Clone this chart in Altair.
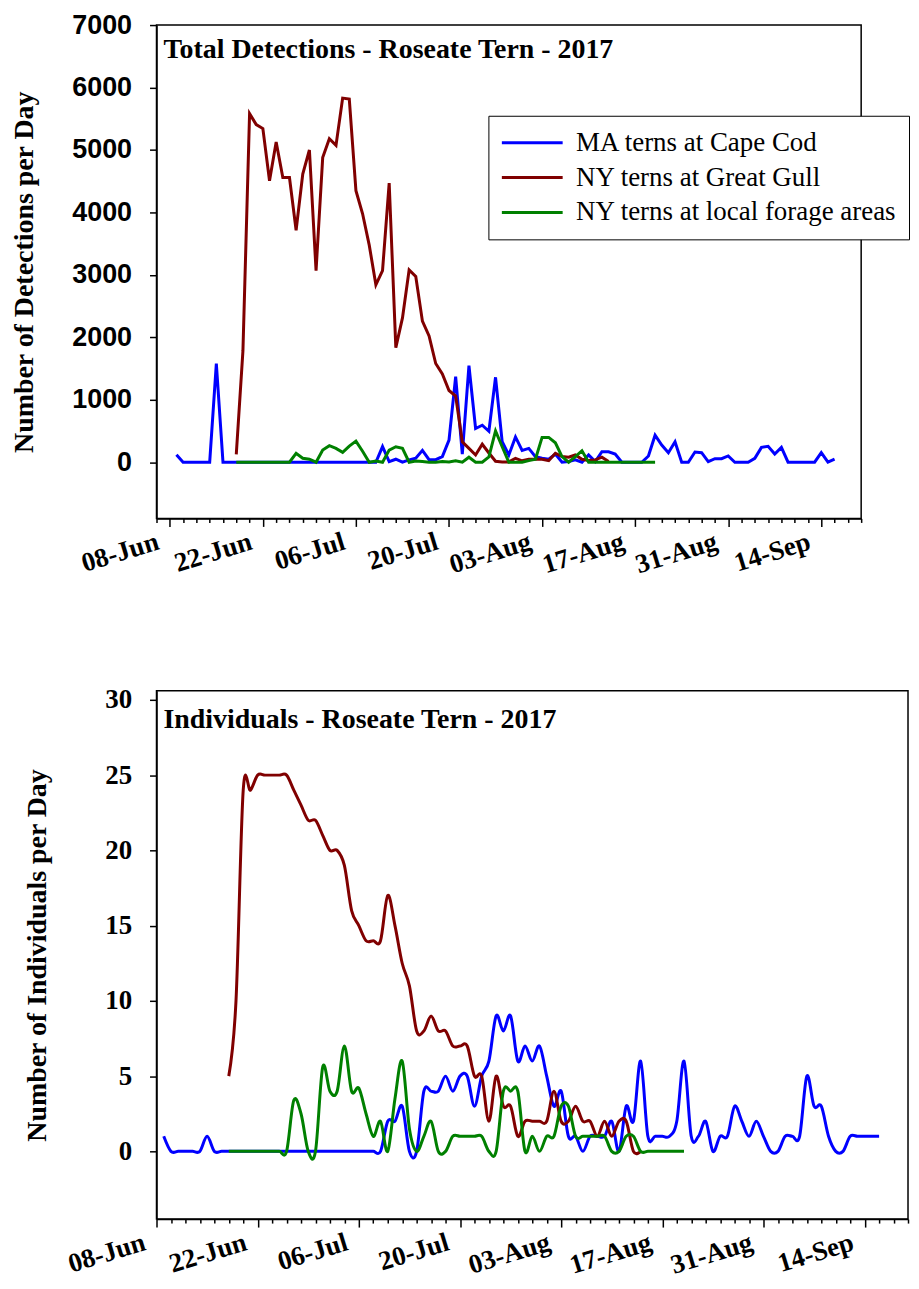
import altair as alt
import pandas as pd

SERIES = ["MA terns at Cape Cod", "NY terns at Great Gull", "NY terns at local forage areas"]
COLORS = ["#0000ff", "#800000", "#008000"]
MAJOR_LABELS = ["08-Jun", "22-Jun", "06-Jul", "20-Jul", "03-Aug", "17-Aug", "31-Aug", "14-Sep"]
Y_TICKS_TOP = [0, 1000, 2000, 3000, 4000, 5000, 6000, 7000]
Y_TICKS_BOTTOM = [0, 5, 10, 15, 20, 25, 30]

# ---- Total detections per day ----
det_ma_start = "2017-06-09"
det_ma = [120, 0, 0, 0, 0, 0, 1580,
          0, 0, 0, 0, 0, 0, 0, 0, 0, 0, 0, 0, 0, 0, 0, 0, 0, 0, 0, 0, 0, 0, 0, 0,
          250, 10, 48, 0, 37, 63, 190, 40, 40, 90, 354, 1370, 130, 1545, 540, 592,
          495, 1360, 327, 116, 405, 190, 222, 90, 63, 48, 132, 0, 10, 37, 0, 116,
          10, 168, 168, 132, 0, 0, 0, 0, 100, 433, 275, 152, 327, 0, 0, 163, 152,
          10, 57, 57, 100, 0, 0, 0, 63, 238, 254, 132, 238, 0, 0, 0, 0, 0, 152, 0, 48]
det_gg_start = "2017-06-18"
det_gg = [127, 1782, 5581, 5406, 5343, 4508, 5127, 4560, 4560, 3714, 4613, 5000, 3068,
          4878, 5179, 5073, 5830, 5814, 4349, 3978, 3476, 2841, 3068, 4470, 1835, 2311,
          3079, 2973, 2259, 2021, 1581, 1413, 1148, 1060, 327, 222, 116, 288, 148, 15,
          5, 5, 63, 23, 48, 48, 48, 26, 143, 90, 80, 116, 48, 26, 37, 80, 10]
det_lf_start = "2017-06-18"
det_lf = [0, 0, 0, 0, 0, 0, 0, 0, 0,
          143, 63, 48, 0, 195, 264, 222, 159, 259, 338, 175, 0, 20, 0, 195, 248, 222,
          0, 20, 10, 0, 0, 10, 5, 22, 0, 80, 0, 0, 85, 500, 248, 0, 0, 0, 26, 48, 397,
          397, 311, 90, 0, 90, 184, 0,
          0, 0, 0, 0, 0, 0, 0, 0, 0, 0]

# ---- Individuals per day ----
ind_ma_start = "2017-06-09"
ind_ma = [1, 0, 0, 0, 0, 0, 1,
          0, 0, 0, 0, 0, 0, 0, 0, 0, 0, 0, 0, 0, 0, 0, 0, 0, 0, 0, 0, 0, 0, 0, 0,
          2, 2, 3, 0, 0, 4, 4, 4, 5, 4, 5, 5, 3, 5, 6, 9, 8, 9, 6, 7, 6, 7, 5, 3, 4,
          1, 1, 0, 1, 1, 1, 2, 0, 3, 2, 6, 1, 1, 1, 1, 2, 6, 1, 1, 2, 0, 1, 1, 3, 2,
          1, 2, 1, 0, 0, 1, 1, 1, 5, 3, 3, 1, 0, 0, 1, 1, 1, 1, 1]
ind_gg_start = "2017-06-18"
ind_gg = [5, 10, 24, 24, 25, 25, 25, 25, 25, 24, 23, 22, 22, 21, 20, 20, 19, 16, 15,
          14, 14, 14, 17, 15, 12.5, 11, 8, 8, 9, 8, 8, 7, 7, 7, 5, 5, 2, 5, 3, 3, 1,
          2, 2, 2, 2, 4, 2, 2, 3, 2, 2, 1, 2, 1, 2, 2, 0, 0]
ind_lf_start = "2017-06-18"
ind_lf = [0, 0, 0, 0, 0, 0, 0, 0,
          0, 3.4, 2.5, 0, 0, 5.6, 4, 4, 7, 4, 4.2, 2.5, 1, 2, 0, 3.5, 6, 1.5, 0, 1, 2,
          0, 0, 1, 1, 1, 1, 1, 0, 0, 4, 4, 4, 0, 1, 0, 1, 1, 3, 3, 1, 1, 1, 1, 1, 0,
          0, 1, 1, 0,
          0, 0, 0, 0, 0, 0]


def frame(starts, values):
    rows = []
    for name, start, vals in zip(SERIES, starts, values):
        for d, v in zip(pd.date_range(start, periods=len(vals), freq="D"), vals):
            rows.append({"date": d, "value": v, "series": name})
    return pd.DataFrame(rows)


det_df = frame([det_ma_start, det_gg_start, det_lf_start], [det_ma, det_gg, det_lf])
ind_df = frame([ind_ma_start, ind_gg_start, ind_lf_start], [ind_ma, ind_gg, ind_lf])

maj_arr = "[" + ",".join("'%s'" % m for m in MAJOR_LABELS) + "]"
IS_MAJOR = "indexof(%s, timeFormat(datum.value, '%%d-%%b')) >= 0" % maj_arr


def dt(ts):
    return alt.DateTime(year=ts.year, month=ts.month, date=ts.day)


def x_encoding(start, end):
    ticks = [dt(t) for t in pd.date_range(start, end, freq="2D")]
    return alt.X(
        "date:T",
        scale=alt.Scale(domain=[dt(pd.Timestamp(start)), dt(pd.Timestamp(end))], nice=False),
        axis=alt.Axis(
            values=ticks,
            labelExpr="%s ? timeFormat(datum.value, '%%d-%%b') : ''" % IS_MAJOR,
            labelAngle=-17, labelAlign="right", labelBaseline="top",
            labelFont="Liberation Serif", labelFontWeight="bold", labelFontSize=27,
            labelColor="black", labelPadding=2, labelOffset=-16,
            labelOverlap=False, labelFlush=False, labelBound=False,
            tickSize={"condition": {"test": IS_MAJOR, "value": 8}, "value": 4},
            tickColor="black", tickWidth=1.5, domainColor="black", domainWidth=1.5,
            grid=False, title=None,
        ),
    )


def y_axis(values, title, label_font, title_pad):
    return alt.Axis(
        values=values, format="d", title=title,
        titleFont="Liberation Serif", titleFontSize=28, titleFontWeight="bold",
        titleColor="black", titlePadding=title_pad,
        labelFont=label_font, labelFontSize=27, labelFontWeight="bold",
        labelColor="black", labelPadding=18,
        tickSize=7, tickColor="black", tickWidth=1.5,
        domainColor="black", domainWidth=1.5, grid=False,
    )


def title_layer(text, ypos):
    return alt.Chart(pd.DataFrame({"t": [text]})).mark_text(
        align="left", baseline="alphabetic", font="Liberation Serif",
        fontSize=28, fontWeight="bold", color="black",
    ).encode(x=alt.value(7), y=alt.value(ypos), text="t:N")


top_lines = alt.Chart(det_df).mark_line(strokeWidth=3).encode(
    x=x_encoding("2017-06-06", "2017-09-20"),
    y=alt.Y("value:Q", scale=alt.Scale(domain=[-900, 7000], nice=False),
            axis=y_axis(Y_TICKS_TOP, "Number of Detections per Day", "Liberation Sans", 33)),
    color=alt.Color(
        "series:N",
        scale=alt.Scale(domain=SERIES, range=COLORS),
        legend=alt.Legend(
            orient="none", legendX=333, legendY=91, title=None,
            symbolType="stroke", symbolSize=3721, symbolStrokeWidth=3,
            labelFont="Liberation Serif", labelFontSize=27, labelColor="black",
            labelOffset=12, rowPadding=5, clipHeight=30, padding=12, labelLimit=0,
            strokeColor="black", fillColor="white",
        ),
    ),
)
top = alt.layer(top_lines, title_layer("Total Detections - Roseate Tern - 2017", 33)).properties(
    width=707, height=495)

bottom_lines = alt.Chart(ind_df).mark_line(strokeWidth=3, interpolate="cardinal").encode(
    x=x_encoding("2017-06-08", "2017-09-20"),
    y=alt.Y("value:Q", scale=alt.Scale(domain=[-4.5, 30.6], nice=False),
            axis=y_axis(Y_TICKS_BOTTOM, "Number of Individuals per Day", "Liberation Serif", 53)),
    color=alt.Color("series:N", scale=alt.Scale(domain=SERIES, range=COLORS), legend=None),
)
bottom = alt.layer(bottom_lines, title_layer("Individuals - Roseate Tern - 2017", 37)).properties(
    width=754, height=530)

chart = alt.vconcat(top, bottom, spacing=106).resolve_scale(color="independent").resolve_legend(
    color="independent").properties(
    padding={"left": 2, "top": 0, "right": 0, "bottom": 0}
).configure(background="white").configure_view(stroke="black", strokeWidth=1.5)

chart.save("out.html", embed_options={"renderer": "svg", "actions": False})
